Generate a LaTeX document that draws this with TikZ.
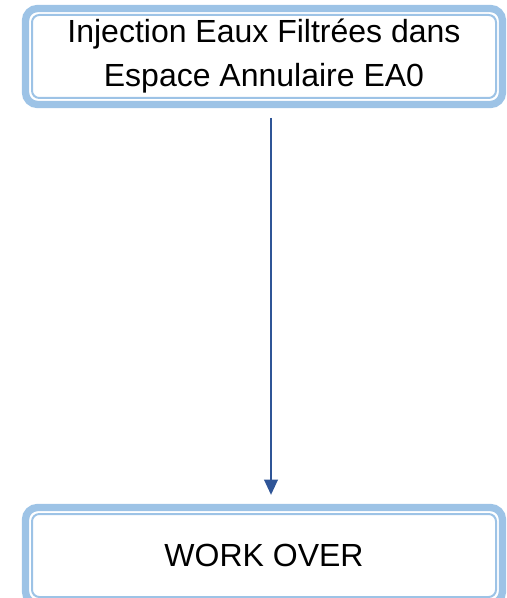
\documentclass[tikz,border=0pt]{standalone}
\usepackage{fontspec}
\setmainfont{Liberation Sans}
\usetikzlibrary{arrows.meta,positioning}
\definecolor{boxblue}{HTML}{9DC3E6}
\definecolor{flowblue}{HTML}{2F5597}

\begin{document}
\begin{tikzpicture}[x=0.75pt,y=-0.75pt,font=\fontsize{24}{33}\selectfont,
  stepbox/.style={draw=boxblue, line width=5.5pt, rounded corners=9pt, outer sep=0pt,
    minimum width=357.75pt, minimum height=72pt, align=center, inner sep=0pt},
  innerline/.style={draw=boxblue, line width=1.5pt, rounded corners=5.5pt},
  flow/.style={-{Triangle[length=11.5pt,width=10pt]}, flowblue, line width=2pt, shorten <=10pt, shorten >=9.4pt}]
  \useasboundingbox (0,0) rectangle (506,598);
  \node[stepbox] (inj) at (264,56.5) {Injection Eaux Filtrées dans\\Espace Annulaire EA0};
  \node[stepbox] (wo) at (264,555.5) {WORK OVER};
  \foreach \b in {inj,wo}{\draw[innerline] ([shift={(6.5,6.5)}]\b.north west) rectangle ([shift={(-6.5,-6.5)}]\b.south east);}
  \draw[flow] ([xshift=5.25pt]inj.south) -- ([xshift=5.25pt]wo.north);
\end{tikzpicture}
\end{document}
